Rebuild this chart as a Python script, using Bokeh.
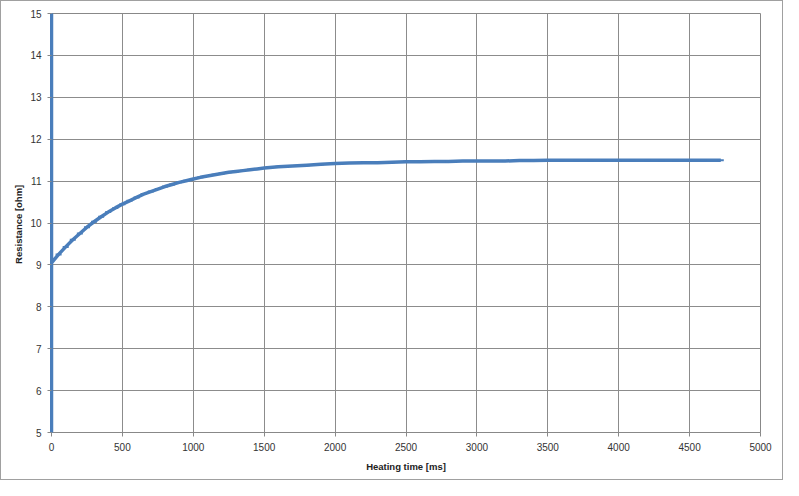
from bokeh.plotting import figure
from bokeh.embed import file_html
from bokeh.resources import INLINE
from bokeh.models import Range1d, FixedTicker

# Heating time [ms] and resistance [ohm]
time_ms = [0, 0, 0,
           50, 100, 150, 200, 250, 300, 350, 400, 450, 500,
           550, 600, 650, 700, 750, 800, 850, 900, 950, 1000,
           1050, 1100, 1150, 1200, 1250, 1300, 1350, 1400, 1450, 1500,
           1600, 1700, 1800, 1900, 2000, 2100, 2200, 2300, 2400, 2500,
           2600, 2700, 2800, 2900, 3000, 3100, 3200, 3300, 3400, 3500,
           3600, 3700, 3800, 3900, 4000, 4100, 4200, 4300, 4400, 4500,
           4600, 4720]
resistance_ohm = [15.0, 5.0, 9.05,
                  9.25, 9.43, 9.60, 9.75, 9.90, 10.03, 10.15, 10.26, 10.36, 10.45,
                  10.53, 10.61, 10.69, 10.75, 10.81, 10.87, 10.92, 10.97, 11.01, 11.05,
                  11.09, 11.12, 11.15, 11.18, 11.21, 11.23, 11.25, 11.27, 11.29, 11.31,
                  11.34, 11.36, 11.38, 11.40, 11.42, 11.43, 11.44, 11.44, 11.45, 11.46,
                  11.46, 11.47, 11.47, 11.48, 11.48, 11.48, 11.48, 11.49, 11.49, 11.50,
                  11.50, 11.50, 11.50, 11.50, 11.50, 11.50, 11.50, 11.50, 11.50, 11.50,
                  11.50, 11.50]

x_ticks = [0, 500, 1000, 1500, 2000, 2500, 3000, 3500, 4000, 4500, 5000]
y_ticks = [5, 6, 7, 8, 9, 10, 11, 12, 13, 14, 15]

W, H = 783, 480
blue = "#4a7ebb"
p = figure(width=W, height=H, output_backend="svg", toolbar_location=None,
           x_range=Range1d(0, 5000), y_range=Range1d(5, 15),
           min_border_left=50, min_border_right=24, min_border_top=12, min_border_bottom=49)

p.styles = {"border": "1px solid #a0a0a0"}
p.background_fill_color = "white"
p.border_fill_color = "white"
p.outline_line_color = "#888888"
p.outline_line_width = 1

grid_col = "#8c8c8c"
p.xgrid.grid_line_color = grid_col
p.ygrid.grid_line_color = grid_col

p.line(time_ms, resistance_ohm, line_color=blue, line_width=3.5)
p.scatter(time_ms[3:], resistance_ohm[3:], marker="dash", size=6,
          line_color=blue, line_width=2)

p.xaxis.ticker = FixedTicker(ticks=x_ticks)
p.yaxis.ticker = FixedTicker(ticks=y_ticks)

for ax in (p.xaxis[0], p.yaxis[0]):
    ax.axis_line_color = "#888888"
    ax.major_tick_line_color = "#888888"
    ax.major_tick_in = 0
    ax.major_tick_out = 4
    ax.minor_tick_line_color = None
    ax.major_label_text_font = "Liberation Sans"
    ax.major_label_text_font_size = "10px"
    ax.major_label_text_color = "#333333"
    ax.axis_label_text_font = "Liberation Sans"
    ax.axis_label_text_font_size = "9.5px"
    ax.axis_label_text_font_style = "bold"
    ax.axis_label_text_color = "#222222"

# the series' vertical run at t = 0 sits on the value axis
p.yaxis.axis_line_color = blue
p.yaxis.axis_line_width = 3

p.xaxis.axis_label = "Heating time [ms]"
p.yaxis.axis_label = "Resistance  [ohm]"
p.xaxis.major_label_standoff = 6
p.yaxis.major_label_standoff = 6
p.xaxis.axis_label_standoff = 7
p.yaxis.axis_label_standoff = 3

open("out.html", "w").write(file_html(p, INLINE))
